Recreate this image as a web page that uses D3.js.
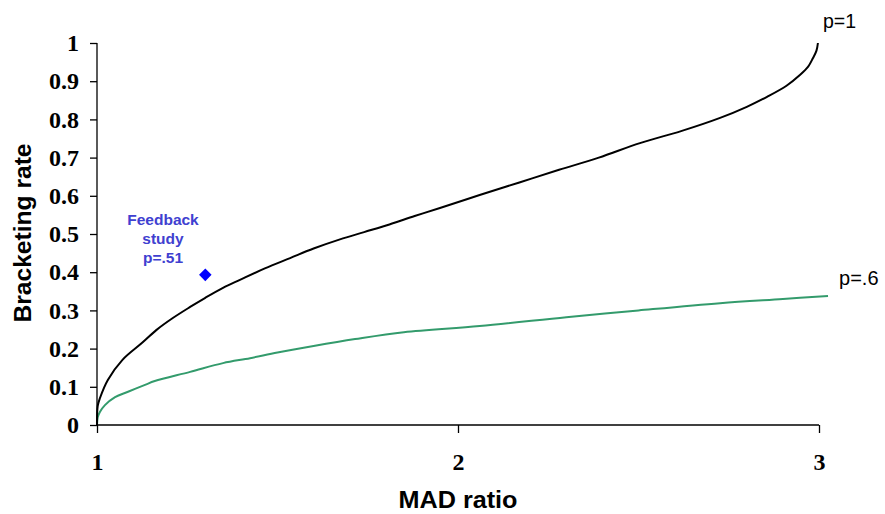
<!DOCTYPE html>
<html>
<head>
<meta charset="utf-8">
<script src="https://cdn.jsdelivr.net/npm/d3@7"></script>
<style>
  body { margin: 0; background: #fff; }
  svg { display: block; }
</style>
</head>
<body>
<div id="chart"></div>
<script>

// values
var xTicks = [1, 2, 3];
var yTicks = [0, 0.1, 0.2, 0.3, 0.4, 0.5, 0.6, 0.7, 0.8, 0.9, 1];

var p1X = [1, 1.002, 1.008, 1.03, 1.07, 1.125, 1.165, 1.21, 1.258, 1.3, 1.349, 1.396, 1.465, 1.535,
    1.6, 1.673, 1.74, 1.81, 1.88, 1.95, 2.06, 2.17, 2.28, 2.39, 2.504, 2.62, 2.726, 2.8, 2.856,
    2.91, 2.947, 2.97, 2.983, 2.993, 2.997];
var p1Y = [0, 0.05, 0.07, 0.118, 0.17, 0.215, 0.249, 0.28, 0.309, 0.333, 0.359, 0.38, 0.41, 0.437,
    0.462, 0.486, 0.505, 0.525, 0.547, 0.568, 0.602, 0.635, 0.668, 0.7, 0.738, 0.77, 0.804, 0.833, 0.859,
    0.888, 0.916, 0.938, 0.96, 0.98, 1.0];

var p6X = [1, 1.002, 1.008, 1.022, 1.05, 1.086, 1.133, 1.16, 1.258, 1.349, 1.424, 1.5, 1.6, 1.715,
    1.85, 2.06, 2.3, 2.5, 2.726, 2.9, 3.025];
var p6Y = [0, 0.02, 0.034, 0.052, 0.073, 0.087, 0.105, 0.115, 0.139, 0.162, 0.175, 0.19, 0.207, 0.225,
    0.243, 0.259, 0.282, 0.3, 0.319, 0.33, 0.338];

var feedback = { x: 1.3, y: 0.393, lines: ["Feedback", "study", "p=.51"] };

var width = 885, height = 514;

var svg = d3.select("#chart").append("svg")
    .attr("width", width)
    .attr("height", height)

var x = d3.scaleLinear().domain([1, 3]).range([97, 819]);
var y = d3.scaleLinear().domain([0, 1]).range([425, 43]);

var serif = "'Liberation Serif', 'Times New Roman', serif";
var sans = "'Liberation Sans', Arial, sans-serif";

// y axis
var yAxis = svg.append("g")
    .attr("transform", "translate(" + x(1) + ",0)")
    .call(d3.axisLeft(y).tickValues(yTicks).tickSize(7).tickPadding(11)
        .tickFormat(d => d3.format("")(d)))
yAxis.select(".domain").attr("d", "M0," + y(0) + "V" + y(1)).attr("stroke-width", 1.3)
yAxis.selectAll(".tick line").attr("stroke-width", 1.3)
yAxis.selectAll("text")
    .attr("font-family", serif)
    .attr("font-weight", "bold")
    .attr("font-size", 24)
    .attr("fill", "#000")

// x axis
var xAxis = svg.append("g")
    .attr("transform", "translate(0," + y(0) + ")")
    .call(d3.axisBottom(x).tickValues(xTicks).tickSize(8).tickPadding(20)
        .tickFormat(d3.format("d")))
xAxis.select(".domain").attr("d", "M" + x(1) + ",0H" + x(3)).attr("stroke-width", 1.3)
xAxis.selectAll(".tick line").attr("stroke-width", 1.3)
xAxis.selectAll("text")
    .attr("font-family", serif)
    .attr("font-weight", "bold")
    .attr("font-size", 24)
    .attr("fill", "#000")

// curves
var line = d3.line()
    .x(d => x(d[0]))
    .y(d => y(d[1]))
    .curve(d3.curveCatmullRom.alpha(0.5))

svg.append("path")
    .datum(p6X.map((v, i) => [v, p6Y[i]]))
    .attr("d", line)
    .attr("fill", "none")
    .attr("stroke", "#339b6c")
    .attr("stroke-width", 2)

svg.append("path")
    .datum(p1X.map((v, i) => [v, p1Y[i]]))
    .attr("d", line)
    .attr("fill", "none")
    .attr("stroke", "#000")
    .attr("stroke-width", 2)

// curve labels
svg.append("text")
    .attr("x", x(3) + 4).attr("y", 28)
    .attr("font-family", sans).attr("font-size", 19.5)
    .text("p=1")

svg.append("text")
    .attr("x", x(3.025) + 11).attr("y", 285)
    .attr("font-family", sans).attr("font-size", 20)
    .text("p=.6")

// feedback study point
svg.append("path")
    .attr("d", d3.symbol().type(d3.symbolDiamond2).size(100))
    .attr("transform", "translate(" + x(feedback.x) + "," + y(feedback.y) + ")")
    .attr("fill", "#0000ff")

svg.append("text")
    .attr("x", 163).attr("y", 225)
    .attr("text-anchor", "middle")
    .attr("font-family", sans).attr("font-weight", "bold").attr("font-size", 15.5)
    .attr("fill", "#4040d0")
    .selectAll("tspan")
    .data(feedback.lines)
    .enter().append("tspan")
    .attr("x", 163)
    .attr("dy", (d, i) => i ? 19 : 0)
    .text(d => d)

// axis titles
svg.append("text")
    .attr("transform", "translate(31," + 233 + ") rotate(-90)")
    .attr("text-anchor", "middle")
    .attr("font-family", sans).attr("font-weight", "bold").attr("font-size", 24)
    .attr("textLength", 179).attr("lengthAdjust", "spacingAndGlyphs")
    .text("Bracketing rate")

svg.append("text")
    .attr("x", 458).attr("y", 508)
    .attr("text-anchor", "middle")
    .attr("font-family", sans).attr("font-weight", "bold").attr("font-size", 23)
    .attr("textLength", 119).attr("lengthAdjust", "spacingAndGlyphs")
    .text("MAD ratio")

</script>
</body>
</html>
